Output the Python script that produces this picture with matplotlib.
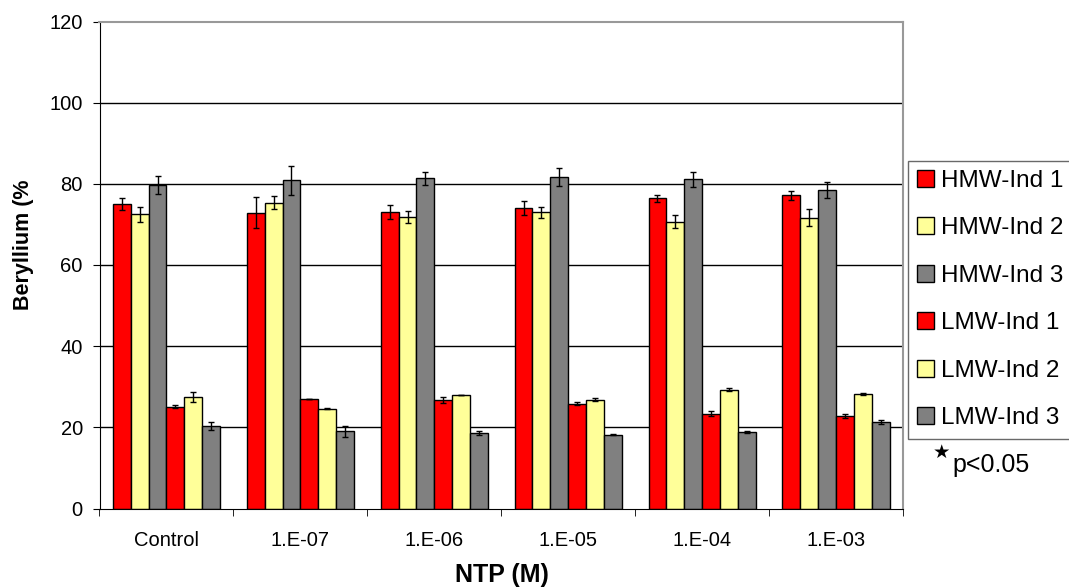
"""Beryllium grouped bar chart with error bars."""

import numpy as np
import matplotlib
matplotlib.use('Agg')
import matplotlib.pyplot as plt

matplotlib.rcParams['font.family'] = ['Liberation Sans', 'DejaVu Sans']

# データ
categories = ['Control', '1.E-07', '1.E-06', '1.E-05', '1.E-04', '1.E-03']
series_names = ['HMW-Ind 1', 'HMW-Ind 2', 'HMW-Ind 3', 'LMW-Ind 1', 'LMW-Ind 2', 'LMW-Ind 3']

hmw1 = [75.0, 72.9, 73.0, 74.0, 76.4, 77.2]
hmw2 = [72.5, 75.4, 71.9, 73.0, 70.6, 71.7]
hmw3 = [79.7, 80.9, 81.4, 81.7, 81.1, 78.5]
lmw1 = [25.1, 27.1, 26.7, 25.8, 23.4, 22.7]
lmw2 = [27.4, 24.6, 28.0, 26.8, 29.3, 28.2]
lmw3 = [20.3, 19.0, 18.5, 18.2, 18.8, 21.3]

hmw1_err = [1.5, 3.9, 1.7, 1.7, 0.9, 1.1]
hmw2_err = [1.8, 1.6, 1.5, 1.4, 1.6, 2.0]
hmw3_err = [2.2, 3.6, 1.6, 2.3, 1.8, 2.0]
lmw1_err = [0.3, 0.0, 0.7, 0.4, 0.7, 0.5]
lmw2_err = [1.2, 0.1, 0.0, 0.4, 0.3, 0.2]
lmw3_err = [0.9, 1.4, 0.5, 0.1, 0.2, 0.4]

values = [hmw1, hmw2, hmw3, lmw1, lmw2, lmw3]
errors = [hmw1_err, hmw2_err, hmw3_err, lmw1_err, lmw2_err, lmw3_err]
colors = ['#FF0000', '#FFFF99', '#808080', '#FF0000', '#FFFF99', '#808080']

W, H = 1069, 588
fig = plt.figure(figsize=(W / 100, H / 100), dpi=100)
ax = fig.add_axes([99.5 / W, (H - 508.5) / H, (903 - 99.5) / W, (508.5 - 21.5) / H])

x = np.arange(len(categories))
bar_w = 0.8 / 6

# Gridlines behind bars
for yv in [20, 40, 60, 80, 100]:
    ax.axhline(yv, color='black', linewidth=1, zorder=0)

for i, (vals, errs, col) in enumerate(zip(values, errors, colors)):
    pos = x - 0.4 + bar_w * (i + 0.5)
    ax.bar(pos, vals, width=bar_w, color=col, edgecolor='black',
           linewidth=1, zorder=2, label=series_names[i])
    ax.errorbar(pos, vals, yerr=errs, fmt='none', ecolor='black',
                elinewidth=1, capsize=2.5, capthick=1, zorder=3)

ax.set_xlim(-0.5, len(categories) - 0.5)
ax.set_ylim(0, 120)
ax.set_yticks(range(0, 121, 20))
ax.set_xticks(x)
ax.set_xticklabels(categories)
ax.set_xticks(np.arange(-0.5, len(categories), 1), minor=True)
ax.tick_params(axis='x', which='major', length=0, pad=16, labelsize=14.5)
ax.tick_params(axis='x', which='minor', length=5, direction='out', color='black')
ax.tick_params(axis='y', length=5, direction='out', labelsize=14.5, pad=7)

for side in ['top', 'right']:
    ax.spines[side].set_color('#999999')
    ax.spines[side].set_linewidth(1.5)
ax.spines['left'].set_color('black')
ax.spines['bottom'].set_color('black')

fig.text(23 / W, 1 - 245 / H, 'Beryllium (%', rotation=90, ha='center', va='center',
         fontsize=15.5, fontweight='bold')
fig.text(502 / W, 1 - 575 / H, 'NTP (M)', ha='center', va='center',
         fontsize=18, fontweight='bold')

leg = ax.legend(loc='upper left', bbox_to_anchor=(907.5 / W, 1 - 160.5 / H),
                bbox_transform=fig.transFigure, fontsize=17.5, frameon=True,
                fancybox=False, handlelength=0.7, handleheight=0.7,
                handletextpad=0.3, labelspacing=1.05, borderpad=0.38,
                borderaxespad=0, edgecolor='#444444')
leg.get_frame().set_linewidth(1)

fig.text(941 / W, 1 - 452 / H, '★', ha='center', va='center', fontsize=14,
         family=['DejaVu Sans'])
fig.text(952 / W, 1 - 472 / H, 'p<0.05', ha='left', va='baseline', fontsize=18)

plt.savefig('out.png', dpi=100)
plt.close()
